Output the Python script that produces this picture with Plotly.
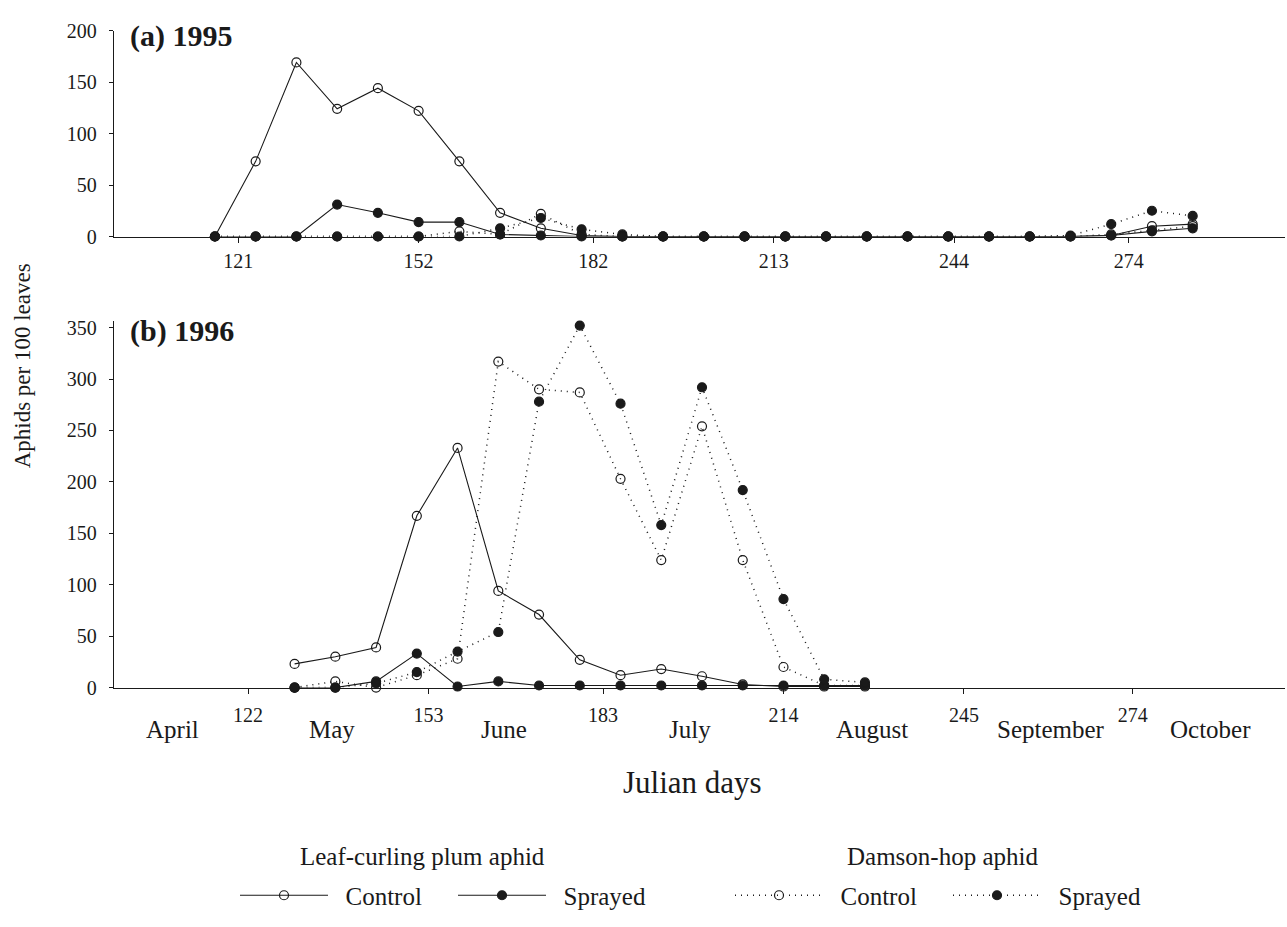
import plotly.graph_objects as go

# ---------------- data ----------------
days_1995 = [117, 124, 131, 138, 145, 152, 159, 166, 173, 180, 187, 194, 201,
             208, 215, 222, 229, 236, 243, 250, 257, 264, 271, 278, 285]
lc_control_1995 = [0, 73, 169, 124, 144, 122, 73, 23, 8, 1, 0, 0, 0,
                   0, 0, 0, 0, 0, 0, 0, 0, 0, 1, 10, 12]
lc_sprayed_1995 = [0, 0, 0, 31, 23, 14, 14, 2, 1, 0, 0, 0, 0,
                   0, 0, 0, 0, 0, 0, 0, 0, 0, 1, 5, 8]
dh_control_1995 = [0, 0, 0, 0, 0, 0, 5, 2, 22, 2, 0, 0, 0,
                   0, 0, 0, 0, 0, 0, 0, 0, 0, 2, 6, 10]
dh_sprayed_1995 = [0, 0, 0, 0, 0, 0, 0, 8, 18, 7, 2, 0, 0,
                   0, 0, 0, 0, 0, 0, 0, 0, 1, 12, 25, 20]

days_1996 = [130, 137, 144, 151, 158, 165, 172, 179, 186, 193, 200, 207, 214, 221, 228]
lc_control_1996 = [23, 30, 39, 167, 233, 94, 71, 27, 12, 18, 11, 3, 1, 1, 1]
lc_sprayed_1996 = [0, 0, 6, 33, 1, 6, 2, 2, 2, 2, 2, 2, 2, 2, 2]
dh_control_1996 = [0, 6, 0, 12, 28, 317, 290, 287, 203, 124, 254, 124, 20, 2, 2]
dh_sprayed_1996 = [0, 0, 4, 15, 35, 54, 278, 352, 276, 158, 292, 192, 86, 8, 5]

ticks_1995 = [121, 152, 182, 213, 244, 274]
ticks_1996 = [122, 153, 183, 214, 245, 274]
month_names = ["April", "May", "June", "July", "August", "September", "October"]
month_centres = [109, 136.4, 166, 198, 229.2, 260, 287.3]
yticks_1995 = [0, 50, 100, 150, 200]
yticks_1996 = [0, 50, 100, 150, 200, 250, 300, 350]
group_titles = ["Leaf-curling plum aphid", "Damson-hop aphid"]

# ---------------- style ----------------
W, H = 1287, 927
FONT = "Liberation Serif"
INK = "#1a1a1a"
PAD = "\u2002"  # small gap between legend sample and its label


def px(x):
    return x / W


def py(y):
    return 1 - y / H


series = [
    # name, legend, dash, filled
    ("Control", "legend", "solid", False),
    ("Sprayed", "legend", "solid", True),
    ("Control", "legend2", "1px,5px", False),
    ("Sprayed", "legend2", "1px,5px", True),
]
data_1995 = [lc_control_1995, lc_sprayed_1995, dh_control_1995, dh_sprayed_1995]
data_1996 = [lc_control_1996, lc_sprayed_1996, dh_control_1996, dh_sprayed_1996]

fig = go.Figure()


def marker(filled):
    return dict(symbol="circle" if filled else "circle-open", size=9,
                color=INK, line=dict(color=INK, width=1.2))


def line(dash):
    return dict(color=INK, width=1.1 if dash == "solid" else 1.5, dash=dash)


for i in [2, 3, 0, 1]:
    name, leg, dash, filled = series[i]
    fig.add_trace(go.Scatter(
        x=days_1995, y=data_1995[i], xaxis="x", yaxis="y",
        mode="lines+markers", name=PAD + name, legend=leg, showlegend=False,
        line=line(dash), marker=marker(filled), cliponaxis=False))
for i in [0, 1, 2, 3]:
    name, leg, dash, filled = series[i]
    fig.add_trace(go.Scatter(
        x=days_1996, y=data_1996[i], xaxis="x2", yaxis="y2",
        mode="lines+markers", name=PAD + name, legend=leg, showlegend=True,
        line=line(dash), marker=marker(filled), cliponaxis=False))

axis_common = dict(showgrid=False, zeroline=False, showline=True, linecolor=INK,
                   linewidth=1.3, ticks="outside", tickcolor=INK, tickwidth=1,
                   tickfont=dict(family=FONT, size=20, color=INK))

xdom = [px(114), px(1285)]
legend_common = dict(orientation="h", xanchor="left", yanchor="middle",
                     font=dict(family=FONT, size=25, color=INK),
                     entrywidth=115, entrywidthmode="pixels", itemwidth=88,
                     bgcolor="rgba(0,0,0,0)", tracegroupgap=0)
fig.update_layout(
    width=W, height=H,
    margin=dict(l=0, r=0, t=0, b=0),
    paper_bgcolor="white", plot_bgcolor="white",
    font=dict(family=FONT, color=INK),
    xaxis=dict(domain=xdom, range=[99.66, 300.86], anchor="y",
               tickvals=ticks_1995, ticklen=5, ticklabelstandoff=1, **axis_common),
    yaxis=dict(domain=[py(231), py(20)], range=[0, 200], anchor="x",
               tickvals=yticks_1995, ticklen=4, ticklabelstandoff=8, **axis_common),
    xaxis2=dict(domain=xdom, range=[98.97, 300.17], anchor="y2",
                tickvals=ticks_1996, ticklen=5, ticklabelstandoff=4, **axis_common),
    yaxis2=dict(domain=[py(693), py(318)], range=[0, 356], anchor="x2",
                tickvals=yticks_1996, ticklen=4, ticklabelstandoff=8, **axis_common),
    legend=dict(x=px(235), y=py(906), **legend_common),
    legend2=dict(x=px(730), y=py(906), **legend_common),
)

annotations = [
    dict(text="<b>(a) 1995</b>", x=px(128), y=py(26), xref="paper", yref="paper",
         xanchor="left", yanchor="middle", showarrow=False,
         font=dict(family=FONT, size=30, color=INK)),
    dict(text="<b>(b) 1996</b>", x=px(128), y=py(328), xref="paper", yref="paper",
         xanchor="left", yanchor="middle", showarrow=False,
         font=dict(family=FONT, size=30, color=INK)),
    dict(text="Aphids per 100 leaves", x=px(22), y=py(364), xref="paper", yref="paper",
         xanchor="center", yanchor="middle", textangle=-90, showarrow=False,
         font=dict(family=FONT, size=23, color=INK)),
    dict(text="Julian days", x=px(692), y=py(790), xref="paper", yref="paper",
         xanchor="center", yanchor="middle", showarrow=False,
         font=dict(family=FONT, size=31, color=INK)),
    dict(text=group_titles[0], x=px(423), y=py(866), xref="paper", yref="paper",
         xanchor="center", yanchor="middle", showarrow=False,
         font=dict(family=FONT, size=25, color=INK)),
    dict(text=group_titles[1], x=px(942), y=py(866), xref="paper", yref="paper",
         xanchor="center", yanchor="middle", showarrow=False,
         font=dict(family=FONT, size=25, color=INK)),
]
for name, c in zip(month_names, month_centres):
    annotations.append(dict(text=name, x=c, y=py(736), xref="x2", yref="paper",
                            xanchor="center", yanchor="middle", showarrow=False,
                            font=dict(family=FONT, size=25, color=INK)))
fig.update_layout(annotations=annotations)

fig.write_html("out.html")
